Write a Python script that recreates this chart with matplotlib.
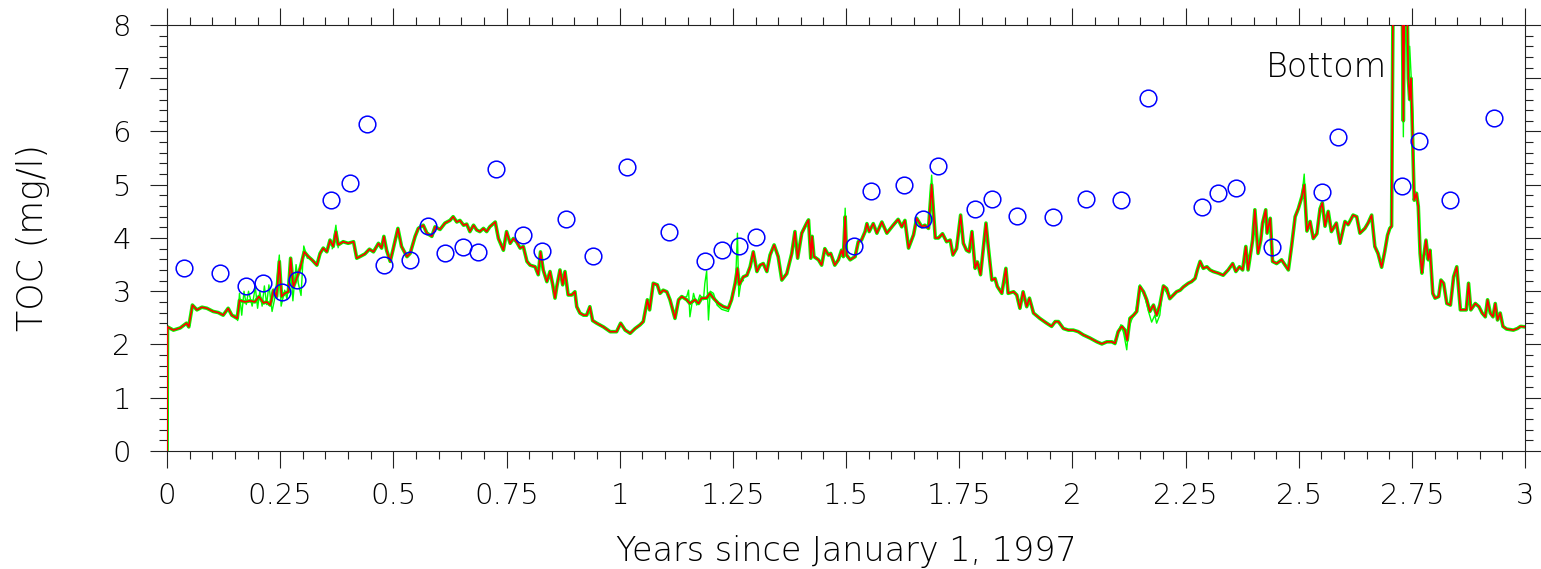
import numpy as np
import matplotlib
matplotlib.use("Agg")
import matplotlib.pyplot as plt
from matplotlib.ticker import MultipleLocator, FuncFormatter

# modelled TOC (red, with green bounds drawn underneath)
years = [0.0, 0.001, 0.014, 0.029, 0.043, 0.048, 0.056, 0.066, 0.077, 0.088, 0.102, 0.113, 0.124, 0.135, 0.143,
         0.155, 0.160, 0.172, 0.183, 0.194, 0.203, 0.213, 0.220, 0.228, 0.235, 0.242, 0.248, 0.253, 0.260, 0.268,
         0.273, 0.279, 0.286, 0.294, 0.303, 0.312, 0.320, 0.331, 0.338, 0.345, 0.353, 0.360, 0.367, 0.373, 0.378,
         0.389, 0.400, 0.412, 0.419, 0.426, 0.437, 0.447, 0.456, 0.467, 0.474, 0.479, 0.485, 0.493, 0.500, 0.510,
         0.518, 0.530, 0.537, 0.548, 0.555, 0.566, 0.574, 0.585, 0.592, 0.603, 0.614, 0.625, 0.632, 0.640, 0.647,
         0.655, 0.662, 0.669, 0.677, 0.684, 0.691, 0.699, 0.706, 0.713, 0.725, 0.732, 0.743, 0.750, 0.758, 0.765,
         0.772, 0.780, 0.787, 0.795, 0.802, 0.813, 0.820, 0.825, 0.831, 0.839, 0.846, 0.852, 0.857, 0.861, 0.868,
         0.874, 0.879, 0.886, 0.894, 0.901, 0.905, 0.912, 0.920, 0.927, 0.934, 0.940, 0.949, 0.964, 0.979, 0.993,
         1.002, 1.012, 1.023, 1.034, 1.045, 1.052, 1.061, 1.066, 1.074, 1.083, 1.089, 1.096, 1.104, 1.111, 1.122,
         1.130, 1.137, 1.148, 1.155, 1.166, 1.174, 1.181, 1.192, 1.199, 1.207, 1.218, 1.229, 1.240, 1.247, 1.255,
         1.260, 1.264, 1.273, 1.281, 1.288, 1.295, 1.303, 1.310, 1.317, 1.325, 1.332, 1.341, 1.350, 1.358, 1.369,
         1.380, 1.387, 1.393, 1.402, 1.413, 1.417, 1.422, 1.425, 1.429, 1.439, 1.446, 1.453, 1.461, 1.466, 1.475,
         1.483, 1.490, 1.494, 1.498, 1.501, 1.509, 1.520, 1.527, 1.534, 1.542, 1.546, 1.551, 1.560, 1.568, 1.579,
         1.590, 1.604, 1.615, 1.623, 1.630, 1.638, 1.649, 1.656, 1.667, 1.674, 1.682, 1.689, 1.697, 1.704, 1.713,
         1.722, 1.730, 1.736, 1.744, 1.753, 1.759, 1.766, 1.772, 1.778, 1.785, 1.790, 1.797, 1.803, 1.809, 1.814,
         1.822, 1.829, 1.834, 1.844, 1.853, 1.858, 1.870, 1.877, 1.884, 1.891, 1.899, 1.905, 1.914, 1.928, 1.943,
         1.954, 1.962, 1.969, 1.980, 1.991, 2.002, 2.013, 2.024, 2.039, 2.054, 2.065, 2.076, 2.087, 2.094, 2.101,
         2.109, 2.116, 2.121, 2.127, 2.135, 2.142, 2.149, 2.157, 2.164, 2.171, 2.179, 2.186, 2.193, 2.201, 2.208,
         2.215, 2.223, 2.230, 2.238, 2.245, 2.256, 2.263, 2.271, 2.276, 2.282, 2.289, 2.297, 2.304, 2.311, 2.322,
         2.333, 2.344, 2.354, 2.361, 2.369, 2.376, 2.383, 2.388, 2.398, 2.403, 2.410, 2.416, 2.420, 2.427, 2.430,
         2.437, 2.442, 2.451, 2.462, 2.470, 2.477, 2.484, 2.492, 2.499, 2.507, 2.512, 2.518, 2.525, 2.532, 2.540,
         2.547, 2.552, 2.558, 2.565, 2.572, 2.583, 2.591, 2.602, 2.609, 2.620, 2.628, 2.635, 2.646, 2.653, 2.661,
         2.668, 2.675, 2.683, 2.690, 2.696, 2.701, 2.705, 2.709, 2.720, 2.728, 2.731, 2.734, 2.738, 2.742, 2.745,
         2.748, 2.750, 2.755, 2.760, 2.764, 2.768, 2.772, 2.775, 2.781, 2.786, 2.790, 2.796, 2.801, 2.809, 2.814,
         2.820, 2.827, 2.835, 2.842, 2.849, 2.857, 2.864, 2.870, 2.875, 2.880, 2.890, 2.898, 2.905, 2.912, 2.917,
         2.923, 2.929, 2.934, 2.939, 2.945, 2.951, 2.959, 2.974, 2.983, 2.990, 3.000]
toc = [0.0, 2.33, 2.27, 2.31, 2.40, 2.33, 2.74, 2.65, 2.70, 2.68, 2.62, 2.60, 2.55, 2.68, 2.55,
       2.49, 2.83, 2.80, 2.82, 2.80, 2.90, 2.78, 2.80, 2.74, 3.02, 2.90, 3.56, 2.90, 2.96, 2.99,
       3.62, 3.08, 3.24, 3.43, 3.74, 3.65, 3.59, 3.49, 3.71, 3.81, 3.74, 3.96, 3.84, 4.12, 3.87,
       3.93, 3.90, 3.93, 3.62, 3.65, 3.70, 3.79, 3.74, 3.90, 3.81, 4.03, 3.77, 3.56, 3.81, 4.18,
       3.84, 3.65, 3.71, 4.03, 4.18, 4.24, 4.09, 4.03, 4.21, 4.16, 4.28, 4.33, 4.40, 4.30, 4.33,
       4.24, 4.26, 4.12, 4.24, 4.15, 4.12, 4.18, 4.12, 4.21, 4.30, 3.99, 3.77, 4.12, 3.90, 3.99,
       3.93, 3.81, 3.84, 3.56, 3.49, 3.46, 3.31, 3.74, 3.40, 3.18, 3.37, 3.12, 2.87, 3.09, 3.40,
       3.12, 3.37, 2.93, 2.93, 2.99, 2.71, 2.59, 2.55, 2.55, 2.71, 2.45, 2.40, 2.33, 2.24, 2.24,
       2.40, 2.27, 2.21, 2.30, 2.37, 2.43, 2.84, 2.65, 3.15, 3.12, 2.96, 3.02, 2.99, 2.84, 2.49,
       2.84, 2.90, 2.84, 2.77, 2.84, 2.77, 2.87, 2.87, 2.96, 2.87, 2.77, 2.71, 2.68, 2.84, 3.15,
       3.43, 3.12, 3.27, 3.30, 3.46, 3.74, 3.37, 3.49, 3.52, 3.37, 3.68, 3.87, 3.65, 3.21, 3.33,
       3.71, 4.12, 3.62, 4.09, 4.28, 4.34, 3.62, 4.03, 3.65, 3.59, 3.49, 3.80, 3.68, 3.71, 3.49,
       3.59, 3.77, 3.65, 4.40, 3.68, 3.59, 3.65, 3.93, 3.96, 4.12, 4.27, 4.12, 4.27, 4.09, 4.30,
       4.09, 4.24, 4.35, 4.21, 4.33, 3.81, 4.06, 4.37, 4.21, 4.24, 4.18, 5.00, 4.00, 4.00, 4.08,
       3.93, 3.96, 3.68, 3.80, 4.43, 3.90, 3.77, 3.74, 4.12, 3.43, 3.55, 3.31, 3.80, 4.28, 3.84,
       3.21, 3.24, 3.09, 2.96, 3.43, 2.96, 2.99, 2.93, 2.68, 2.99, 2.71, 2.87, 2.59, 2.49, 2.40,
       2.34, 2.43, 2.43, 2.30, 2.27, 2.27, 2.24, 2.18, 2.12, 2.05, 2.01, 2.05, 2.05, 2.02, 2.24,
       2.34, 2.27, 2.08, 2.49, 2.55, 2.62, 3.09, 2.99, 2.84, 2.62, 2.74, 2.55, 2.74, 3.10, 3.05,
       2.86, 2.93, 2.99, 3.02, 3.08, 3.15, 3.18, 3.24, 3.40, 3.56, 3.43, 3.46, 3.40, 3.37, 3.34,
       3.30, 3.40, 3.52, 3.37, 3.46, 3.40, 3.84, 3.40, 3.96, 4.53, 3.71, 3.96, 4.28, 4.53, 4.09,
       4.37, 3.56, 3.52, 3.59, 3.49, 3.40, 3.84, 4.40, 4.55, 4.78, 5.00, 4.13, 4.31, 3.99, 4.08,
       4.55, 4.66, 4.22, 4.50, 4.12, 4.28, 3.90, 4.31, 4.25, 4.43, 4.40, 4.09, 4.18, 4.28, 4.43,
       3.84, 3.71, 3.45, 3.75, 4.05, 4.18, 4.22, 9.5, 9.5, 9.0, 6.2, 9.0, 9.0, 7.0, 6.6,
       7.0, 6.34, 4.71, 4.84, 4.59, 3.71, 3.34, 3.59, 3.96, 3.59, 3.77, 2.96, 2.87, 2.90, 3.21,
       3.15, 2.77, 2.74, 3.27, 3.46, 2.65, 2.65, 2.65, 3.15, 2.65, 2.77, 2.71, 2.59, 2.52, 2.84,
       2.59, 2.52, 2.77, 2.46, 2.59, 2.34, 2.29, 2.27, 2.30, 2.34, 2.33]

# noisier green bound where it departs from the red line (nan = gap)
nan = float("nan")
bound_years = [0.150, 0.156, 0.160, 0.165, 0.170, 0.175, 0.180, 0.188, 0.195, 0.200, 0.205, 0.210, 0.215, 0.220,
               0.225, 0.232, 0.240, 0.248, 0.252, 0.260, 0.265, 0.272, 0.278, 0.285, 0.290, 0.296, 0.302, 0.310, nan,
               0.365, 0.373, 0.378, nan,
               1.140, 1.148, 1.152, 1.155, 1.163, 1.170, 1.177, 1.185, 1.188, 1.192, 1.196, 1.200, 1.207, 1.215,
               1.225, 1.240, 1.250, 1.256, 1.260, 1.263, 1.268, 1.273, nan,
               1.494, 1.498, 1.501, nan,
               1.682, 1.689, 1.697, nan,
               2.094, 2.101, 2.107, 2.113, 2.120, 2.124, 2.130, 2.140, 2.149, 2.160, 2.168, 2.175, 2.182, 2.186,
               2.193, 2.200, 2.210, nan,
               2.507, 2.512, 2.518, nan,
               2.728, 2.731, 2.734, 2.742, 2.745, 2.749, 2.752, 2.755]
bound_toc = [2.55, 2.45, 2.96, 2.55, 3.00, 2.75, 3.00, 2.72, 3.08, 2.68, 3.00, 2.72, 3.10, 2.75,
             3.12, 2.62, 2.95, 3.68, 2.72, 3.02, 2.85, 3.58, 2.82, 3.50, 3.15, 2.92, 3.85, 3.62, nan,
             3.80, 4.24, 3.82, nan,
             2.88, 2.90, 3.02, 2.52, 2.96, 2.74, 2.93, 2.84, 3.15, 3.38, 2.46, 3.00, 2.96, 2.74,
             2.66, 2.62, 3.00, 3.20, 4.09, 2.90, 3.18, 3.20, nan,
             3.65, 4.56, 3.68, nan,
             4.18, 5.18, 4.00, nan,
             2.00, 2.20, 2.37, 2.22, 1.90, 2.30, 2.45, 2.62, 3.12, 2.90, 2.62, 2.42, 2.55, 2.40,
             2.55, 3.08, 2.95, nan,
             4.80, 5.20, 4.15, nan,
             9.0, 5.90, 9.0, 7.2, 7.6, 6.9, 6.3, 4.9]

# measured samples (blue circles)
obs_years = [0.038, 0.116, 0.175, 0.212, 0.253, 0.286, 0.362, 0.404, 0.442, 0.480, 0.537, 0.577, 0.615, 0.653,
             0.688, 0.727, 0.787, 0.828, 0.881, 0.941, 1.016, 1.108, 1.188, 1.226, 1.264, 1.302, 1.518, 1.555,
             1.628, 1.669, 1.703, 1.785, 1.823, 1.878, 1.957, 2.031, 2.107, 2.167, 2.287, 2.322, 2.361, 2.440,
             2.552, 2.587, 2.727, 2.765, 2.834, 2.932]
obs_toc = [3.43, 3.34, 3.09, 3.15, 2.98, 3.22, 4.71, 5.03, 6.14, 3.49, 3.59, 4.23, 3.72, 3.84,
           3.74, 5.30, 4.06, 3.76, 4.35, 3.67, 5.33, 4.12, 3.57, 3.77, 3.85, 4.01, 3.85, 4.89,
           5.00, 4.35, 5.35, 4.54, 4.73, 4.41, 4.39, 4.73, 4.71, 6.63, 4.58, 4.85, 4.93, 3.83,
           4.87, 5.90, 4.98, 5.82, 4.71, 6.25]

plt.rcParams["font.family"] = ["DejaVu Sans"]
plt.rcParams["font.weight"] = "light"
plt.rcParams["axes.labelweight"] = "light"

fig = plt.figure(figsize=(15.41, 5.69), dpi=100)
ax = fig.add_axes([0.1084, 0.2074, 0.8813, 0.7487])

ax.plot(years, toc, color="#00ff00", lw=2.6, zorder=2)
ax.plot(bound_years, bound_toc, color="#00ff00", lw=1.0, zorder=2)
ax.plot(years, toc, color="#ff0000", lw=1.2, zorder=3)
ax.plot(obs_years, obs_toc, "o", mfc="none", mec="#0000ff", ms=12, mew=1.1, zorder=4)

ax.set_xlim(0, 3)
ax.set_ylim(0, 8)
ax.xaxis.set_major_locator(MultipleLocator(0.25))
ax.xaxis.set_minor_locator(MultipleLocator(0.05))
ax.yaxis.set_major_locator(MultipleLocator(1))
ax.yaxis.set_minor_locator(MultipleLocator(0.2))
ax.xaxis.set_major_formatter(FuncFormatter(lambda v, p: f"{v:g}"))

ax.tick_params(which="both", direction="out", top=True, right=True, width=0.8, color="#222222")
ax.tick_params(which="major", length=12, labelsize=21)
ax.tick_params(which="minor", length=5.5)
ax.tick_params(axis="x", which="major", pad=10)
ax.tick_params(axis="y", which="major", pad=14)
for s in ax.spines.values():
    s.set_linewidth(0.8)
    s.set_color("#222222")

ax.set_xlabel("Years since January 1, 1997", fontsize=24)
ax.set_ylabel("TOC (mg/l)", fontsize=25)
ax.xaxis.set_label_coords(0.5, -0.197)
ax.yaxis.set_label_coords(-0.086, 0.5)

ax.text(2.695, 7.2, "Bottom", ha="right", va="center", fontsize=24)

fig.savefig("out.png", dpi=100)
